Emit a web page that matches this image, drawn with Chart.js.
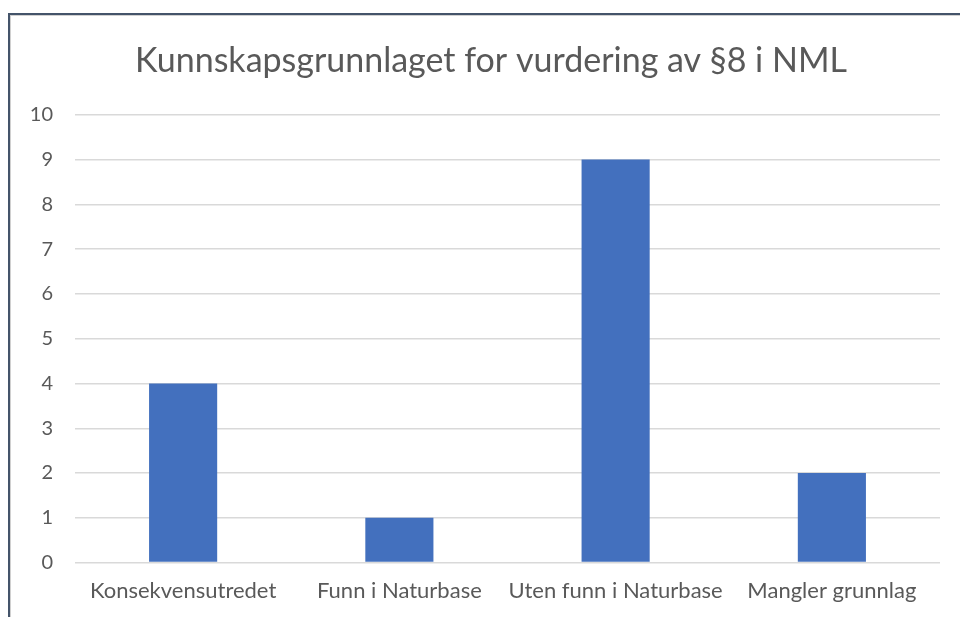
<!DOCTYPE html>
<html>
<head>
<meta charset="utf-8">
<script src="https://cdn.jsdelivr.net/npm/chart.js@4"></script>
<style>
    html, body { margin: 0; padding: 0; background: #fff; overflow: hidden; }
    #wrap { position: relative; width: 960px; height: 617px; }
    /* ramme rundt diagrammet (skåret av til høyre og nederst) */
    #frame {
        position: absolute; left: 8px; top: 13px; width: 1000px; height: 700px;
        border-left: 2px solid #44546a; border-top: 2px solid #44546a;
        box-shadow: inset 1px 1px 0 #d0d0d0;
    }
    canvas { position: absolute; left: 0; top: 0; }
</style>
</head>
<body>
<div id="wrap">
    <div id="frame"></div>
    <canvas id="chart" width="960" height="617"></canvas>
</div>
<script>
// data
const categories = ['Konsekvensutredet', 'Funn i Naturbase', 'Uten funn i Naturbase', 'Mangler grunnlag'];
const values = [4, 1, 9, 2];
const yTicks = [0, 1, 2, 3, 4, 5, 6, 7, 8, 9, 10];
const chartTitle = 'Kunnskapsgrunnlaget for vurdering av §8 i NML';

const fontFamily = 'Lato, "Open Sans", sans-serif';
const textColor = '#595959';
const gridColor = '#d9d9d9';

const ctx = document.getElementById('chart');

// tittel midtstilt mot hele rammen (som går utenfor bildet til høyre)
const titleCenter = {
    id: 'titleCenter',
    afterLayout(chart) {
        const t = chart.titleBlock;
        if (t) {
            t.left = 22;
            t.right = 960;
            t.width = t.right - t.left;
        }
    }
};

new Chart(ctx.getContext('2d'), {
    type: 'bar',
    data: {
        labels: categories,
        datasets: [{
            label: 'Antall',
            data: values,
            backgroundColor: '#4370be',
            borderWidth: 0,
            categoryPercentage: 1,
            barPercentage: 0.315
        }]
    },
    options: {
        responsive: false,
        animation: false,
        layout: {
            padding: { left: 0, right: 20, top: 0, bottom: -2 }
        },
        plugins: {
            legend: { display: false },
            tooltip: { enabled: false },
            title: {
                display: true,
                text: chartTitle,
                color: textColor,
                font: { family: fontFamily, size: 34, weight: 'normal' },
                padding: { top: 41, bottom: 33 }
            }
        },
        scales: {
            x: {
                grid: { display: false, drawTicks: false },
                border: { display: false },
                ticks: {
                    color: textColor,
                    font: { family: fontFamily, size: 22 },
                    padding: 15,
                    maxRotation: 0,
                    autoSkip: false
                }
            },
            y: {
                min: 0,
                max: 10,
                afterBuildTicks: (scale) => {
                    scale.ticks = yTicks.map(v => ({ value: v }));
                },
                afterFit: (scale) => {
                    scale.width = 75;
                },
                grid: { color: gridColor, lineWidth: 1.5, drawTicks: false },
                border: { display: false },
                ticks: {
                    color: textColor,
                    font: { family: fontFamily, size: 20 },
                    padding: 22
                }
            }
        }
    },
    plugins: [titleCenter]
});
</script>
</body>
</html>
